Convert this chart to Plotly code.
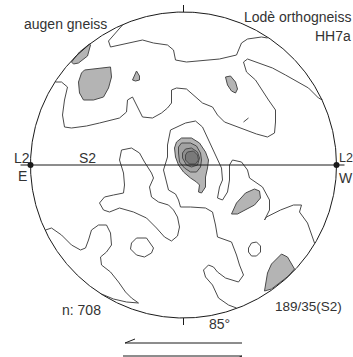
import numpy as np
import plotly.graph_objects as go

# Equal-area net, lower hemisphere; drawing units with the primitive circle of radius 153
R_NET = 153

# Digitised density contours (x east-west, y north-south, net centre = 0,0)
LEVEL5_CORE = [(4, 13), (10, 14), (14, 10), (15, 5), (12, 1), (6, 1), (2, 5), (2, 10)]
LEVEL4_CORE = [(2, 16), (8, 17), (14, 13), (16, 7), (14, 0), (8, -2), (3, 0), (-1, 7), (-1, 12)]
LEVEL3_CORE = [(-2, 22), (7, 22), (13, 19), (17, 12), (18, 5), (17, -2), (13, -7), (7, -7),
               (1, -3), (-4, 3), (-5, 12), (-5, 18)]
LEVEL2_CORE = [(-2, 27), (8, 27), (16, 22), (22, 13), (25, 5), (24, -3), (22, -12), (22, -22),
               (18, -28), (15, -27), (16, -20), (13, -17), (7, -13), (0, -7), (-5, 0), (-8, 8),
               (-9, 17), (-7, 23)]

LEVEL2_PATCHES = [
    [(-99, 95), (-85, 97), (-73, 98), (-72, 88), (-75, 77), (-80, 68), (-90, 65), (-100, 65),
     (-104, 72), (-105, 83), (-102, 92)],
    [(-112, 103), (-104, 113), (-94, 121), (-93, 120), (-96, 109), (-105, 102), (-110, 101)],
    [(-51, 85), (-47, 94), (-44, 89), (-44, 85), (-48, 84)],
    [(42, 88), (47, 89), (52, 83), (54, 76), (52, 72), (48, 74), (44, 80)],
    [(48, -49), (53, -38), (62, -28), (71, -24), (76, -26), (77, -33), (71, -40), (62, -45),
     (54, -49)],
    [(81, -126), (84, -108), (88, -99), (98, -89), (104, -92), (111, -104), (105, -111),
     (96, -118), (88, -124)],
]

LEVEL1_LINES = [
    # northern arc
    [(-61, 140), (-75, 124), (-73, 118), (-63, 120), (-51, 123), (-41, 125), (-30, 122),
     (-16, 120), (-10, 115), (-8, 105), (3, 103), (23, 105), (36, 106), (53, 110), (58, 122),
     (64, 126), (78, 128), (84, 127)],
    # western lobe joined to the north-eastern embayment
    [(-128, 83), (-122, 83), (-116, 78), (-119, 65), (-121, 50), (-119, 38), (-112, 37),
     (-97, 39), (-84, 42), (-64, 47), (-57, 53), (-56, 65), (-51, 68), (-46, 58), (-41, 48),
     (-31, 47), (-22, 52), (-16, 57), (-12, 62), (-12, 75), (-7, 77), (3, 76), (12, 68),
     (19, 62), (29, 58), (34, 50), (41, 43), (58, 37), (73, 31), (84, 28), (91, 32), (92, 43),
     (92, 55), (85, 65), (77, 77), (72, 85), (63, 93), (60, 103), (64, 106), (75, 102),
     (89, 97), (102, 90), (115, 83), (125, 77), (135, 67), (139, 65)],
    # ridge through the maximum
    [(131, -78), (128, -70), (124, -58), (116, -47), (118, -40), (110, -40), (97, -45),
     (83, -52), (81, -55), (86, -45), (86, -35), (79, -22), (66, -13), (64, -5), (58, 3),
     (49, 5), (46, 0), (46, -15), (44, -27), (39, -35), (34, -33), (36, -22), (39, -15),
     (38, -3), (33, 8), (26, 22), (19, 38), (12, 44), (2, 42), (-13, 35), (-16, 20), (-16, 8),
     (-20, -5), (-18, -13), (-15, -25), (-8, -29), (-5, -35), (-3, -42), (7, -42), (22, -43),
     (29, -47), (32, -60), (34, -72), (48, -77), (53, -90), (56, -100), (60, -110),
     (55, -117), (42, -113), (34, -107), (30, -102), (25, -100), (20, -105), (22, -112),
     (29, -120), (35, -133), (45, -140), (53, -143)],
    # central-western closed low
    [(-62, 15), (-52, 17), (-44, 12), (-39, 3), (-32, -8), (-30, -13), (-34, -22), (-32, -32),
     (-25, -37), (-15, -40), (-10, -45), (-6, -52), (-4, -62), (-6, -71), (-12, -76),
     (-19, -72), (-27, -63), (-37, -53), (-50, -47), (-64, -43), (-74, -47), (-80, -45),
     (-84, -38), (-79, -32), (-70, -30), (-60, -28), (-59, -20), (-60, -8), (-64, 5), (-62, 15)],
    # south-western lobe
    [(-138, -65), (-132, -63), (-122, -70), (-112, -80), (-103, -85), (-98, -83), (-95, -75),
     (-92, -65), (-85, -60), (-77, -60), (-73, -68), (-72, -80), (-77, -87), (-83, -92),
     (-82, -100), (-73, -107), (-65, -117), (-58, -127), (-52, -133), (-45, -138), (-57, -137),
     (-70, -134), (-82, -129)],
    # small closed lows
    [(-52, -78), (-47, -73), (-37, -73), (-30, -83), (-32, -88), (-39, -92), (-47, -90),
     (-53, -84), (-52, -78)],
    [(65, -83), (68, -78), (73, -77), (77, -81), (77, -87), (73, -91), (68, -91), (65, -87),
     (65, -83)],
    [(60, 43), (65, 47)],
]

FILL_COLOURS = {2: "#b4b4b4", 3: "#a2a2a2", 4: "#8e8e8e", 5: "#7a7a7a"}
LINE_DARK = "#4a4a4a"
INK = "#1a1a1a"

fig = go.Figure()


def add_polygon(points, fill):
    xs = [p[0] for p in points] + [points[0][0]]
    ys = [p[1] for p in points] + [points[0][1]]
    fig.add_trace(go.Scatter(x=xs, y=ys, mode="lines", fill="toself", fillcolor=fill,
                             line=dict(color=LINE_DARK, width=1), hoverinfo="skip"))


def add_line(points, colour=LINE_DARK, width=1):
    fig.add_trace(go.Scatter(x=[p[0] for p in points], y=[p[1] for p in points], mode="lines",
                             line=dict(color=colour, width=width), hoverinfo="skip"))


for line in LEVEL1_LINES:
    add_line(line)
for patch in LEVEL2_PATCHES:
    add_polygon(patch, FILL_COLOURS[2])
add_polygon(LEVEL2_CORE, FILL_COLOURS[2])
add_polygon(LEVEL3_CORE, FILL_COLOURS[3])
add_polygon(LEVEL4_CORE, FILL_COLOURS[4])
add_polygon(LEVEL5_CORE, FILL_COLOURS[5])

# primitive circle
theta = np.linspace(0, 2 * np.pi, 721)
add_line(list(zip(R_NET * np.cos(theta), R_NET * np.sin(theta))), colour=INK)

# north / south ticks
add_line([(0, R_NET), (0, R_NET + 7)], colour=INK)
add_line([(0, -R_NET), (0, -R_NET - 7)], colour=INK)

# S2 foliation trace (E-W great circle) and L2 lineation points
add_line([(-R_NET - 10, 0), (R_NET + 8, 0)], colour=INK)
fig.add_trace(go.Scatter(x=[-R_NET, R_NET], y=[0, 0], mode="markers",
                         marker=dict(color=INK, size=6), hoverinfo="skip"))

# shear-sense half arrows
add_line([(-48.5, -174), (-58.5, -178), (58.5, -178)], colour=INK)
add_line([(-60.5, -191), (58.5, -191), (50, -195)], colour=INK)

LABELS = [
    ("augen gneiss", -160.5, 141, "left", 14),
    ("Lodè orthogneiss", 168.5, 148, "right", 14),
    ("HH7a", 168.5, 129, "right", 14),
    ("L2", -170.5, 7, "left", 14),
    ("E", -166.5, -11, "left", 14),
    ("S2", -105.5, 7, "left", 14),
    ("L2", 154.5, 7.5, "left", 12.5),
    ("W", 154, -12.5, "left", 14),
    ("n: 708", -122.5, -144.5, "left", 14),
    ("189/35(S2)", 90.5, -141, "left", 13.5),
    ("85°", 24, -159, "left", 14),
]
for text, x, y, anchor, size in LABELS:
    fig.add_annotation(x=x, y=y, text=text, showarrow=False, xanchor=anchor, yanchor="middle",
                       borderpad=0,
                       font=dict(family="Liberation Sans, Arial, sans-serif", size=size,
                                 color="#333333"))

fig.update_layout(
    width=353, height=357, margin=dict(l=0, r=0, t=0, b=0),
    paper_bgcolor="white", plot_bgcolor="white", showlegend=False,
    xaxis=dict(range=[-183.5, 169.5], visible=False, fixedrange=True),
    yaxis=dict(range=[-192, 165], visible=False, fixedrange=True),
)

fig.write_html("out.html")
